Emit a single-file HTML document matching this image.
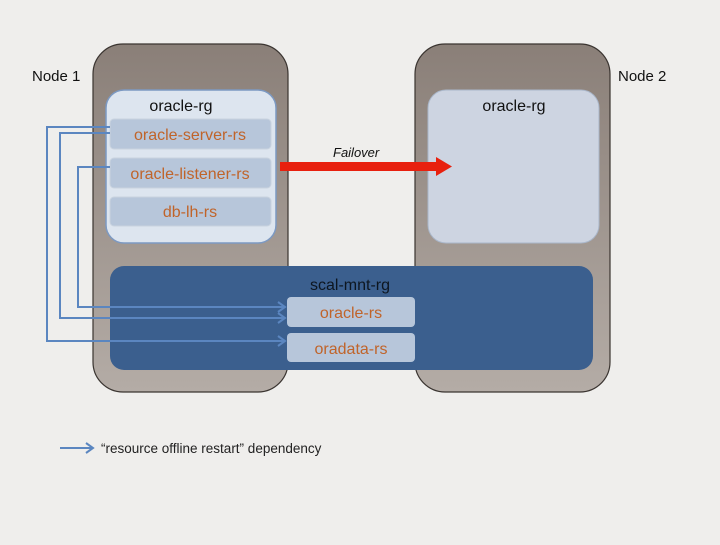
<!DOCTYPE html>
<html><head><style>
body{margin:0;width:720px;height:540px;background:#efeeec;overflow:hidden}
svg text{font-family:"Liberation Sans",sans-serif}
</style></head><body>
<svg width="720" height="540" xmlns="http://www.w3.org/2000/svg">
<defs>
<linearGradient id="ng" x1="0" y1="0" x2="0" y2="1"><stop offset="0" stop-color="#8a7f78"/><stop offset="1" stop-color="#b4aca6"/></linearGradient>
</defs>
<rect width="720" height="540" fill="#efeeec"/>
<rect x="93" y="44" width="195" height="348" rx="30" fill="url(#ng)" stroke="#3a3430" stroke-width="1.2"/>
<rect x="415" y="44" width="195" height="348" rx="30" fill="url(#ng)" stroke="#3a3430" stroke-width="1.2"/>
<text x="32" y="81" font-size="15" fill="#111">Node 1</text>
<text x="618" y="81" font-size="15" fill="#111">Node 2</text>
<rect x="106" y="90" width="170" height="153" rx="18" fill="#dde5ef" stroke="#7c99c2" stroke-width="1.5"/>
<text x="181" y="111" font-size="16" text-anchor="middle" fill="#111">oracle-rg</text>
<rect x="110" y="119" width="161" height="30" rx="4" fill="#b7c6da" stroke="#c9d3df"/>
<rect x="110" y="158" width="161" height="30" rx="4" fill="#b7c6da" stroke="#c9d3df"/>
<rect x="110" y="197" width="161" height="29" rx="4" fill="#b7c6da" stroke="#c9d3df"/>
<g font-size="16" fill="#c0642a" text-anchor="middle">
<text x="190" y="140">oracle-server-rs</text>
<text x="190" y="179">oracle-listener-rs</text>
<text x="190" y="217">db-lh-rs</text>
</g>
<rect x="428" y="90" width="171" height="153" rx="18" fill="#cdd4e1" stroke="#a9b6c9"/>
<text x="514" y="111" font-size="16" text-anchor="middle" fill="#111">oracle-rg</text>
<rect x="110" y="266" width="483" height="104" rx="14" fill="#3b5f8e"/>
<text x="350" y="290" font-size="16" text-anchor="middle" fill="#0d1620">scal-mnt-rg</text>
<rect x="287" y="297" width="128" height="30" rx="4" fill="#b7c6da"/>
<rect x="287" y="333" width="128" height="29" rx="4" fill="#b7c6da"/>
<g font-size="16" fill="#c0642a" text-anchor="middle">
<text x="351" y="318">oracle-rs</text>
<text x="351" y="354">oradata-rs</text>
</g>
<g fill="none" stroke="#5b86c0" stroke-width="2">
<polyline points="110,127 47,127 47,341 285,341"/>
<polyline points="110,133 60,133 60,318 285,318"/>
<polyline points="110,167 78,167 78,307 285,307"/>
<polyline points="278,302 285,307 278,312"/>
<polyline points="278,313 285,318 278,323"/>
<polyline points="278,336 285,341 278,346"/>
<line x1="60" y1="448" x2="93" y2="448"/>
<polyline points="86,443 93,448 86,453"/>
</g>
<rect x="280" y="162" width="158" height="9" fill="#e8200e"/>
<polygon points="436,157 452,166.5 436,176" fill="#e8200e"/>
<text x="333" y="157" font-size="13" font-style="italic" fill="#111">Failover</text>
<text x="101" y="453" font-size="13.5" fill="#222">“resource offline restart” dependency</text>
</svg>
</body></html>
